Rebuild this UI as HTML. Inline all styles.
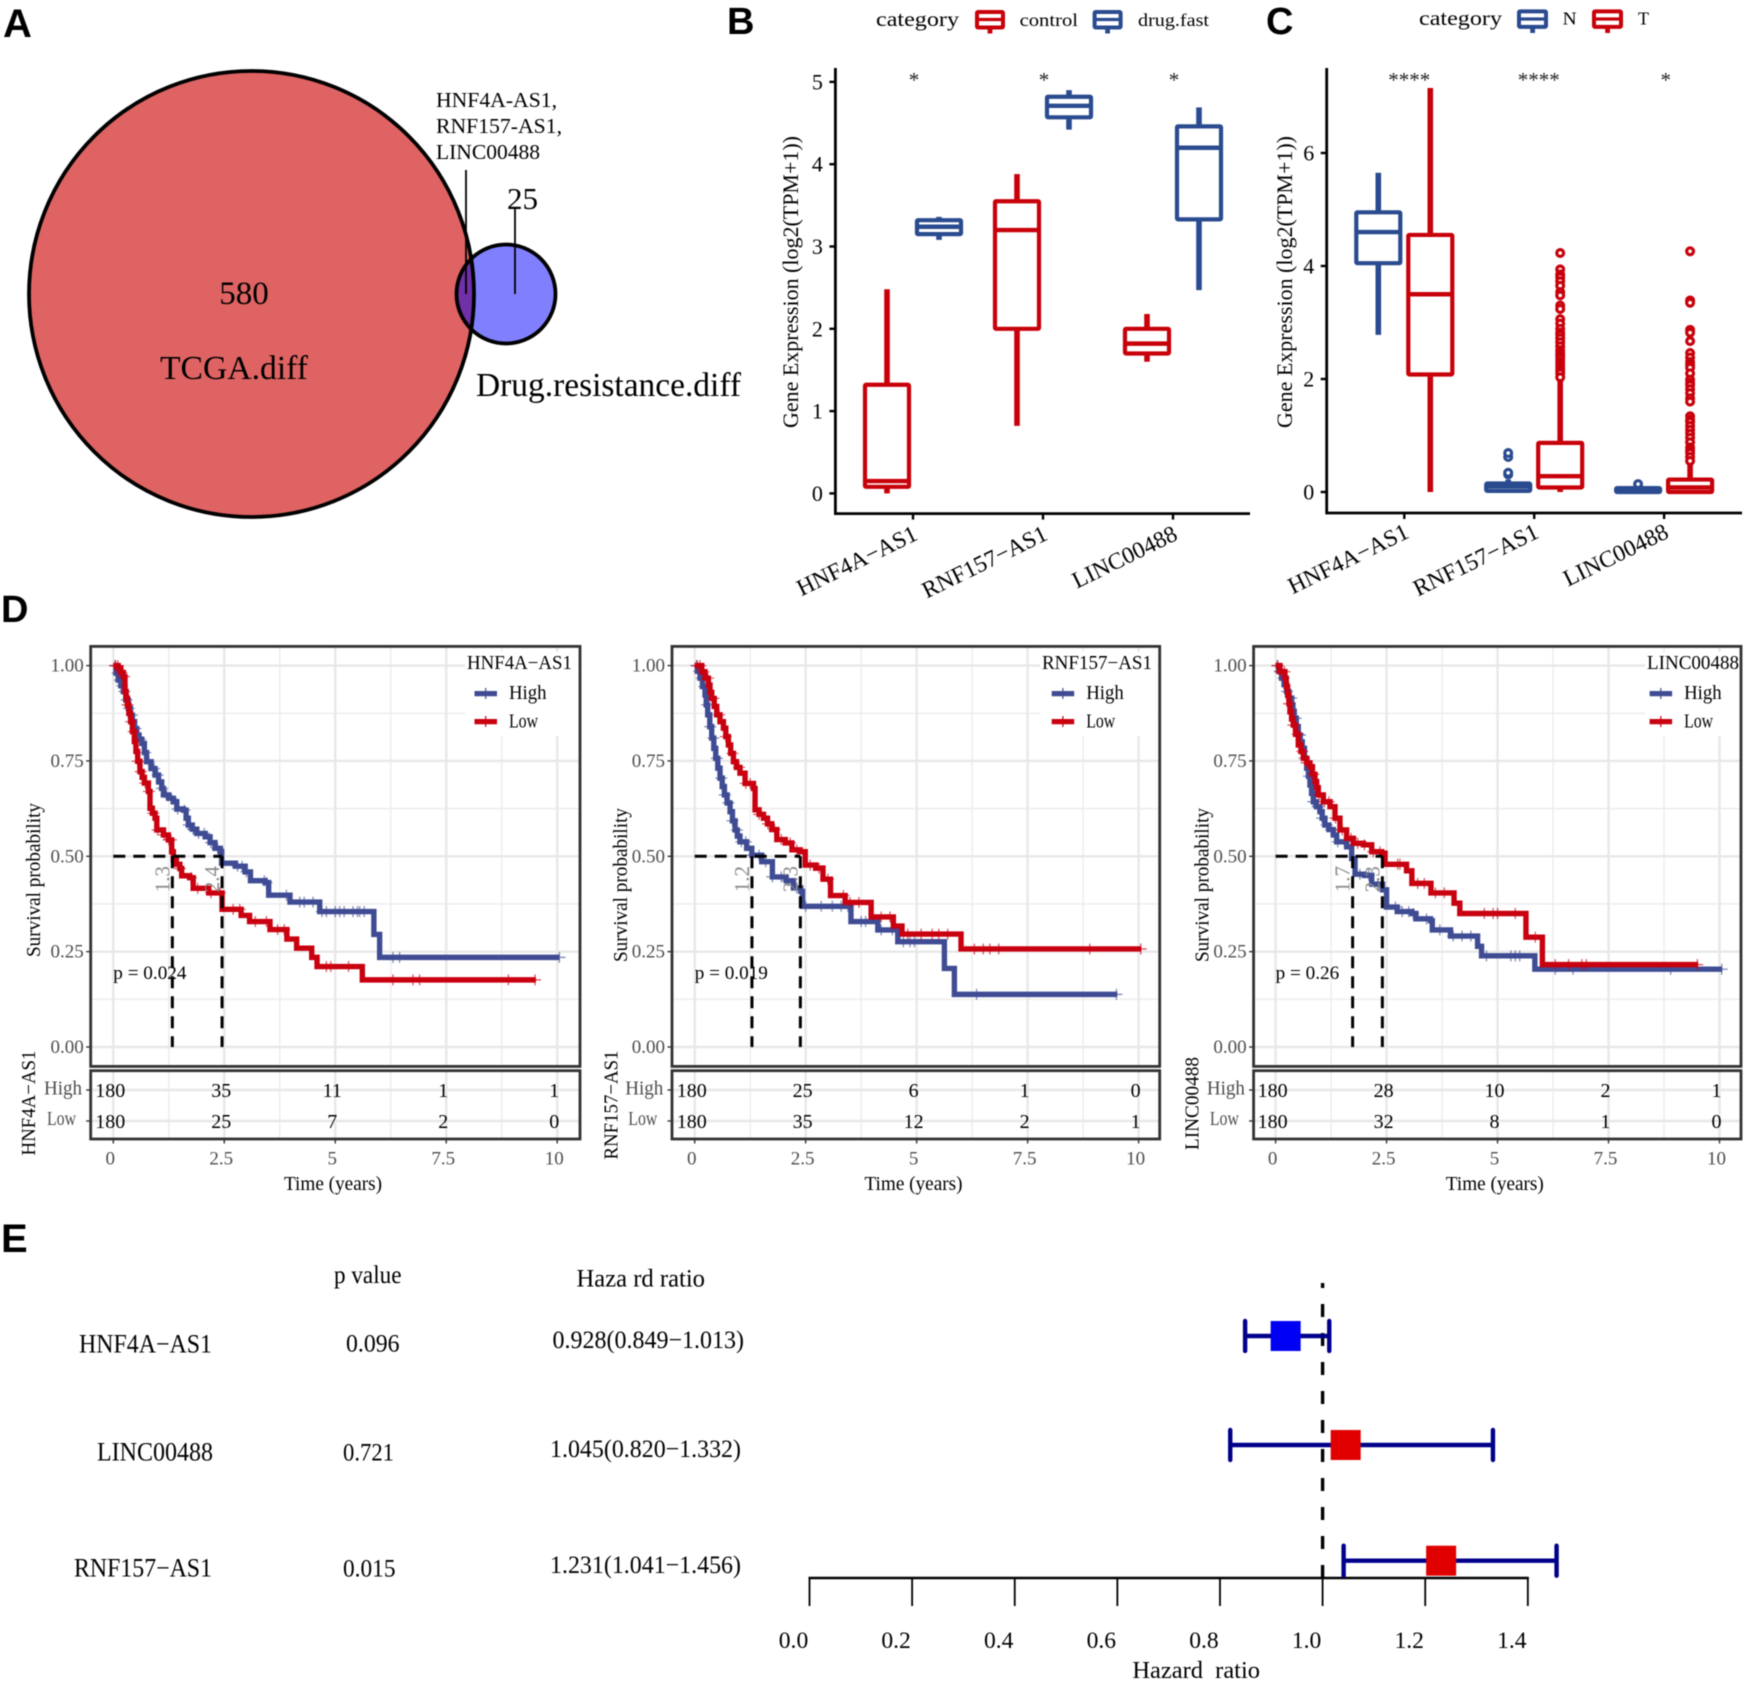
<!DOCTYPE html>
<html lang="en">
<head>
<meta charset="utf-8">
<title>Lncrna multi-panel figure</title>
<style>
html,body{margin:0;padding:0;background:#fff;}
svg{display:block;filter:blur(0.4px);}
text{font-family:"Liberation Serif","Times New Roman",serif;}
.panel-letter{font-family:"Liberation Sans",Arial,sans-serif;font-weight:bold;}
</style>
</head>
<body>
<svg id="figure" xmlns="http://www.w3.org/2000/svg" width="1745" height="1684" viewBox="0 0 1745 1684">
  <rect x="0" y="0" width="1745" height="1684" fill="#ffffff"/>

  <text class="panel-letter" x="3" y="37" font-size="40">A</text>
  <text class="panel-letter" x="727" y="34" font-size="38">B</text>
  <text class="panel-letter" x="1266" y="34" font-size="38">C</text>
  <text class="panel-letter" x="1" y="622" font-size="38">D</text>
  <text class="panel-letter" x="1" y="1252" font-size="40">E</text>

  <!-- Panel A: Venn diagram -->
  <g>
    <defs>
      <clipPath id="bigClip"><ellipse cx="251.5" cy="294" rx="222.5" ry="223"/></clipPath>
    </defs>
    <ellipse cx="251.5" cy="294" rx="222.5" ry="223" fill="#df6363"/>
    <ellipse cx="506" cy="294" rx="49.5" ry="49.5" fill="#8080ff"/>
    <ellipse cx="506" cy="294" rx="49.5" ry="49.5" fill="#7030a8" clip-path="url(#bigClip)"/>
    <ellipse cx="251.5" cy="294" rx="222.5" ry="223" fill="none" stroke="#000" stroke-width="3.8"/>
    <ellipse cx="506" cy="294" rx="49.5" ry="49.5" fill="none" stroke="#000" stroke-width="3.8"/>
    <line x1="466" y1="170" x2="466" y2="294" stroke="#000" stroke-width="1.8"/>
    <line x1="515" y1="209" x2="515" y2="294" stroke="#000" stroke-width="1.8"/>
    <text x="244" y="304" font-size="33" text-anchor="middle">580</text>
    <text x="160" y="379" font-size="33.5" textLength="148" lengthAdjust="spacingAndGlyphs">TCGA.diff</text>
    <text x="476" y="396" font-size="33.5" textLength="265" lengthAdjust="spacingAndGlyphs">Drug.resistance.diff</text>
    <text x="436" y="107" font-size="21.5" textLength="121" lengthAdjust="spacingAndGlyphs">HNF4A-AS1,</text>
    <text x="436" y="133" font-size="21.5" textLength="126" lengthAdjust="spacingAndGlyphs">RNF157-AS1,</text>
    <text x="436" y="159" font-size="21.5" textLength="104" lengthAdjust="spacingAndGlyphs">LINC00488</text>
    <text x="507" y="209" font-size="31" textLength="31" lengthAdjust="spacingAndGlyphs">25</text>
  </g>

  <!-- Panel B legend -->
  <g>
    <text x="876" y="26" font-size="21" textLength="83" lengthAdjust="spacingAndGlyphs">category</text>
    <g stroke="#c8000a" fill="none">
      <rect x="977" y="12" width="26" height="15.5" stroke-width="4" rx="1"/>
      <line x1="977" x2="1003" y1="19.5" y2="19.5" stroke-width="3.2"/>
      <line x1="990" x2="990" y1="28" y2="33.5" stroke-width="4.8"/>
    </g>
    <text x="1019.6" y="26" font-size="18" textLength="58.4" lengthAdjust="spacingAndGlyphs">control</text>
    <g stroke="#2a4b8f" fill="none">
      <rect x="1094.6" y="12" width="26" height="15.5" stroke-width="4" rx="1"/>
      <line x1="1094.6" x2="1120.6" y1="19.5" y2="19.5" stroke-width="3.2"/>
      <line x1="1107.6" x2="1107.6" y1="28" y2="33.5" stroke-width="4.8"/>
    </g>
    <text x="1138" y="26" font-size="18" textLength="71" lengthAdjust="spacingAndGlyphs">drug.fast</text>
  </g>

  <!-- Panel C legend -->
  <g>
    <text x="1419" y="25" font-size="21" textLength="83" lengthAdjust="spacingAndGlyphs">category</text>
    <g stroke="#2a4b8f" fill="none">
      <rect x="1519" y="11.4" width="27" height="15.5" stroke-width="4" rx="1"/>
      <line x1="1519" x2="1546" y1="19" y2="19" stroke-width="3.2"/>
      <line x1="1532.6" x2="1532.6" y1="27.5" y2="33" stroke-width="4.8"/>
    </g>
    <text x="1562.7" y="24.5" font-size="18" textLength="14" lengthAdjust="spacingAndGlyphs">N</text>
    <g stroke="#c8000a" fill="none">
      <rect x="1594" y="11.4" width="27" height="15.5" stroke-width="4" rx="1"/>
      <line x1="1594" x2="1621" y1="19" y2="19" stroke-width="3.2"/>
      <line x1="1607.6" x2="1607.6" y1="27.5" y2="33" stroke-width="4.8"/>
    </g>
    <text x="1638" y="24.5" font-size="18" textLength="11" lengthAdjust="spacingAndGlyphs">T</text>
  </g>

  <g id="chart-b"></g>
  <g id="chart-c"></g>
  <g id="chart-d1"></g>
  <g id="chart-d2"></g>
  <g id="chart-d3"></g>
  <g id="chart-e"></g>
</svg>

<script>
/* ---------- Panel B data ---------- */
const geneCategories = ['HNF4A\u2212AS1', 'RNF157\u2212AS1', 'LINC00488'];
const bYTicks = [0, 1, 2, 3, 4, 5];
const bControlLow = [0.0, 0.82, 1.6];
const bControlQ1 = [0.08, 2.0, 1.7];
const bControlMedian = [0.15, 3.2, 1.82];
const bControlQ3 = [1.32, 3.55, 2.0];
const bControlHigh = [2.48, 3.88, 2.18];
const bDrugLow = [3.08, 4.42, 2.47];
const bDrugQ1 = [3.15, 4.57, 3.33];
const bDrugMedian = [3.24, 4.71, 4.2];
const bDrugQ3 = [3.32, 4.82, 4.46];
const bDrugHigh = [3.36, 4.9, 4.69];
const bStars = ['*', '*', '*'];

/* ---------- Panel C data ---------- */
const cYTicks = [0, 2, 4, 6];
const cNormalLow = [2.78, 0, 0];
const cNormalQ1 = [4.05, 0.02, 0];
const cNormalMedian = [4.6, 0.1, 0.02];
const cNormalQ3 = [4.95, 0.15, 0.07];
const cNormalHigh = [5.65, 0.22, 0.09];
const cTumorLow = [0, 0, 0];
const cTumorQ1 = [2.08, 0.08, 0];
const cTumorMedian = [3.5, 0.28, 0.08];
const cTumorQ3 = [4.55, 0.87, 0.22];
const cTumorHigh = [7.15, 2.0, 0.5];
const cNormalOutliersHnf = [];
const cNormalOutliersRnf = [0.31, 0.34, 0.62, 0.69];
const cNormalOutliersLinc = [0.14];
const cTumorOutliersHnf = [];
const cTumorOutliersRnf = [4.23, 3.94, 3.85, 3.8, 3.73, 3.65, 3.54, 3.48, 3.3, 3.24, 3.06, 2.98, 2.89, 2.82, 2.78, 2.72, 2.65, 2.58, 2.51, 2.46, 2.41, 2.36, 2.3, 2.25, 2.2, 2.15, 2.1, 2.03];
const cTumorOutliersLinc = [4.26, 3.39, 3.35, 2.87, 2.82, 2.67, 2.46, 2.38, 2.3, 2.25, 2.2, 2.1, 1.99, 1.93, 1.89, 1.82, 1.75, 1.66, 1.6, 1.34, 1.28, 1.24, 1.17, 1.1, 1.03, 0.96, 0.88, 0.79, 0.74, 0.69, 0.62, 0.55];
const cStars = ['****', '****', '*'];

/* ---------- Panel D data ---------- */
const kmTimeTicks = [0, 2.5, 5, 7.5, 10];
const kmTimeLabels = ['0', '2.5', '5', '7.5', '10'];
const kmTimeMinor = [1.25, 3.75, 6.25, 8.75];
const kmSurvTicks = [0, 0.25, 0.5, 0.75, 1];
const kmSurvLabels = ['0.00', '0.25', '0.50', '0.75', '1.00'];
const kmSurvMinor = [0.125, 0.375, 0.625, 0.875];

const hnf4aHighTime = [0,.06,.11,.17,.226,.28,.338,.385,.43,.48,.526,.58,.64,.7,.75,.85,.94,1.02,1.09,1.13,1.25,1.353,1.43,1.58,1.64,1.69,1.78,1.88,2.07,2.18,2.29,2.41,2.44,2.75,2.97,3.09,3.42,3.5,3.98,4.65,5.87,6.0,10.05];
const hnf4aHighSurv = [1,.98,.962,.947,.932,.91,.888,.87,.853,.835,.818,.807,.796,.772,.748,.73,.713,.695,.678,.661,.652,.643,.624,.621,.6,.582,.571,.56,.551,.536,.521,.512,.482,.474,.459,.436,.431,.398,.38,.355,.295,.235,.235];
const hnf4aHighCensor = [.05,.1,.15,.2,.25,.3,.35,.42,.5,.6,.72,.8,.92,1.0,1.1,1.2,1.3,1.45,1.6,1.7,1.8,1.92,2.05,2.2,2.35,2.8,2.9,3.0,3.4,3.45,3.9,4.2,4.3,4.5,4.7,4.8,5.0,5.1,5.2,5.4,5.5,5.55,5.65,6.3,6.45,10.05];
const hnf4aLowTime = [0,.11,.17,.226,.263,.29,.316,.35,.39,.43,.474,.51,.549,.6,.65,.7,.79,.827,.88,.94,.98,1.13,1.24,1.316,1.353,1.42,1.5,1.54,1.72,1.8,2.15,2.45,2.88,3.07,3.53,3.91,4.13,4.47,4.59,5.61,9.52];
const hnf4aLowSurv = [1,.993,.982,.971,.932,.915,.897,.875,.853,.827,.801,.775,.749,.722,.707,.692,.67,.626,.613,.6,.569,.556,.543,.512,.49,.479,.468,.449,.444,.416,.404,.361,.345,.329,.308,.283,.259,.235,.211,.176,.176];
const hnf4aLowCensor = [.04,.1,.18,.24,.32,.4,.46,.55,.62,.72,.8,.9,1.0,1.15,1.25,1.3,1.5,1.75,1.9,2.2,2.4,2.7,2.85,3.2,3.45,3.7,3.85,4.8,4.9,5.3,6.3,6.75,6.9,8.9,9.5];
const hnf4aMedians = [1.33, 2.45];
const hnf4aMedianLabels = ['1.3', '2.4'];
const hnf4aAtRiskHigh = [180, 35, 11, 1, 1];
const hnf4aAtRiskLow = [180, 25, 7, 2, 0];

const rnf157HighTime = [0,.06,.12,.175,.233,.26,.293,.34,.383,.43,.474,.52,.571,.62,.669,.73,.797,.85,.91,.96,1.02,1.17,1.286,1.51,1.75,2.06,2.225,2.39,2.43,3.52,4.125,4.575,5.625,5.85,9.52];
const rnf157HighSurv = [1,.985,.967,.945,.923,.897,.871,.84,.81,.783,.757,.731,.705,.683,.661,.64,.617,.593,.569,.553,.538,.521,.503,.486,.446,.436,.417,.408,.369,.329,.307,.276,.206,.138,.138];
const rnf157HighCensor = [.04,.1,.16,.22,.28,.35,.42,.5,.6,.68,.76,.85,.95,1.05,1.15,1.3,1.45,1.6,1.75,1.95,2.1,2.3,2.5,2.85,3.1,3.3,3.45,3.75,3.85,4.2,4.45,4.7,4.85,4.95,6.35,9.5];
const rnf157LowTime = [0,.158,.23,.308,.345,.383,.44,.496,.57,.647,.7,.759,.81,.872,.94,1.02,1.135,1.323,1.36,1.45,1.55,1.64,1.737,1.85,2.04,2.19,2.376,2.49,2.725,2.89,3.06,3.39,3.975,4.475,4.67,6.0,10.06];
const rnf157LowSurv = [1,.984,.967,.949,.93,.914,.893,.871,.853,.836,.814,.792,.77,.748,.733,.718,.691,.678,.622,.61,.6,.585,.57,.544,.535,.517,.512,.477,.469,.44,.397,.379,.341,.317,.296,.257,.257];
const rnf157LowCensor = [.06,.12,.2,.3,.42,.55,.7,.85,1.0,1.15,1.25,1.45,1.65,1.8,1.95,2.15,2.3,2.6,2.8,3.0,3.35,3.5,3.7,4.2,4.4,4.8,5.1,5.35,5.5,5.7,6.3,6.5,6.65,6.85,8.9,10.05];
const rnf157Medians = [1.29, 2.38];
const rnf157MedianLabels = ['1.2', '2.3'];
const rnf157AtRiskHigh = [180, 25, 6, 1, 0];
const rnf157AtRiskLow = [180, 35, 12, 2, 1];

const lincHighTime = [0,.07,.135,.19,.248,.3,.361,.39,.42,.465,.511,.555,.6,.65,.7,.74,.774,.81,.85,.92,1.0,1.05,1.11,1.2,1.3,1.376,1.6,1.714,1.79,2.0,2.165,2.41,2.5,2.74,3.07,3.16,3.49,3.53,3.94,4.55,4.64,5.84,10.06];
const lincHighSurv = [1,.985,.967,.95,.932,.915,.897,.88,.862,.84,.818,.8,.783,.757,.731,.71,.687,.665,.643,.63,.617,.6,.582,.57,.556,.538,.525,.494,.453,.45,.427,.412,.367,.355,.35,.336,.331,.307,.291,.264,.239,.204,.204];
const lincHighCensor = [.05,.1,.18,.26,.35,.45,.55,.65,.75,.85,.95,1.05,1.15,1.25,1.4,1.55,1.9,2.1,2.3,2.7,2.85,3.0,3.1,3.4,3.7,4.0,4.2,4.4,4.75,5.3,5.4,5.5,6.3,6.7,8.9,10.05];
const lincLowTime = [0,.098,.21,.24,.27,.3,.323,.36,.398,.45,.511,.57,.624,.7,.774,.83,.887,.925,.962,1.075,1.226,1.338,1.45,1.6,1.752,1.977,2.165,2.39,2.466,2.95,3.07,3.5,4.02,4.15,5.64,6.01,9.52];
const lincLowSurv = [1,.984,.967,.945,.923,.9,.879,.86,.844,.82,.792,.775,.757,.745,.735,.715,.696,.68,.661,.643,.63,.6,.569,.547,.534,.53,.512,.508,.479,.462,.429,.404,.377,.35,.288,.216,.216];
const lincLowCensor = [.04,.1,.2,.3,.4,.5,.6,.7,.85,.98,1.1,1.2,1.35,1.5,1.7,1.85,2.0,2.2,2.35,2.75,2.8,3.2,3.35,3.6,3.8,4.7,4.9,5.0,5.4,5.85,6.3,6.6,6.9,7.0,9.5];
const lincMedians = [1.735, 2.405];
const lincMedianLabels = ['1.7', '2.3'];
const lincAtRiskHigh = [180, 28, 10, 2, 1];
const lincAtRiskLow = [180, 32, 8, 1, 0];

/* ---------- Panel E data ---------- */
const forestGenes = ['HNF4A\u2212AS1', 'LINC00488', 'RNF157\u2212AS1'];
const forestPValues = ['0.096', '0.721', '0.015'];
const forestHr = [0.928, 1.045, 1.231];
const forestLower = [0.849, 0.820, 1.041];
const forestUpper = [1.013, 1.332, 1.456];
const forestTicks = [0, 0.2, 0.4, 0.6, 0.8, 1.0, 1.2, 1.4];
const forestTickLabels = ['0.0', '0.2', '0.4', '0.6', '0.8', '1.0', '1.2', '1.4'];

/* ---------- Helpers ---------- */
const NS = 'http://www.w3.org/2000/svg';
const RED = '#c8000a';
const NAVY = '#2a4b8f';
const KM_RED = '#c8000f';
const KM_BLUE = '#3f4c94';

function mk(tag, attrs, parent) {
  const el = document.createElementNS(NS, tag);
  for (const k in attrs) el.setAttribute(k, attrs[k]);
  parent.appendChild(el);
  return el;
}
function txt(parent, str, x, y, size, opts) {
  const o = opts || {};
  const el = mk('text', {x: x, y: y, 'font-size': size}, parent);
  if (o.anchor) el.setAttribute('text-anchor', o.anchor);
  if (o.fill) el.setAttribute('fill', o.fill);
  if (o.rotate !== undefined) el.setAttribute('transform', 'rotate(' + o.rotate + ' ' + x + ' ' + y + ')');
  if (o.len) {
    el.setAttribute('textLength', o.len);
    el.setAttribute('lengthAdjust', 'spacingAndGlyphs');
  }
  el.textContent = str;
  return el;
}

/* ---------- Box plots (B, C) ---------- */
function drawBox(g, cx, yOf, low, q1, med, q3, high, color) {
  const half = 22;
  const whiskerUp = mk('line', {x1: cx, x2: cx, y1: yOf(q3), y2: yOf(high), stroke: color, 'stroke-width': 5.6}, g);
  
  
  const whiskerDown = mk('line', {x1: cx, x2: cx, y1: yOf(q1), y2: yOf(low), stroke: color, 'stroke-width': 5.6}, g);
  
  
  const box = mk('rect', {x: cx - half, width: half * 2, y: yOf(q3), height: yOf(q1) - yOf(q3), fill: '#fff', stroke: color, 'stroke-width': 4.2, rx: 1}, g);
  
  
  const median = mk('line', {x1: cx - half, x2: cx + half, y1: yOf(med), y2: yOf(med), stroke: color, 'stroke-width': 4.4}, g);
  
  
}
function drawOutliers(g, cx, yOf, values, color) {
  values.forEach(function (v) {
    const c = mk('circle', {cx: cx, cy: yOf(v), r: 3.4, fill: '#fff', stroke: color, 'stroke-width': 3.2}, g);
    
    
  });
}
function drawBoxAxes(g, c) {
  const ya = mk('line', {x1: c.axisX, x2: c.axisX, y1: 68, y2: c.axisY + 1.4, stroke: '#000', 'stroke-width': 2.8}, g);
  
  
  const xa = mk('line', {x1: c.axisX, x2: c.axisEnd, y1: c.axisY, y2: c.axisY, stroke: '#000', 'stroke-width': 2.8}, g);
  
  
  c.yTicks.forEach(function (v) {
    const t = mk('line', {x1: c.axisX - 6, x2: c.axisX, y1: c.yOf(v), y2: c.yOf(v), stroke: '#000', 'stroke-width': 2.4}, g);
    
    
    const l = txt(g, String(v), c.axisX - 12.5, c.yOf(v) + 7.5, 22, {anchor: 'end'});
    
    
  });
  geneCategories.forEach(function (name, i) {
    const x = c.xOf(i);
    const t = mk('line', {x1: x, x2: x, y1: c.axisY, y2: c.axisY + 6, stroke: '#000', 'stroke-width': 2.4}, g);
    
    
    const l = txt(g, name, x + 6, c.labelY, 23.5, {anchor: 'end', rotate: -26});
    
    
    const s = txt(g, c.stars[i], x + c.starDx[i], 87, 21, {anchor: 'middle', fill: '#222'});
    
    
  });
  const title = txt(g, 'Gene Expression (log2(TPM+1))', c.titleX, 282, 22, {anchor: 'middle', rotate: -90, len: 292});
  
  
}

(function () {
  const g = document.getElementById('chart-b');
  const yOf = function (v) { return 493.4 - v * 82.3; };
  const xOf = function (i) { return 913 + i * 130; };
  drawBoxAxes(g, {axisX: 835.4, axisY: 513.6, axisEnd: 1250, yOf: yOf, xOf: xOf, yTicks: bYTicks, labelY: 539, stars: bStars, starDx: [1, 1, 1], titleX: 798});
  geneCategories.forEach(function (_, i) {
    drawBox(g, xOf(i) - 26, yOf, bControlLow[i], bControlQ1[i], bControlMedian[i], bControlQ3[i], bControlHigh[i], RED);
    drawBox(g, xOf(i) + 26, yOf, bDrugLow[i], bDrugQ1[i], bDrugMedian[i], bDrugQ3[i], bDrugHigh[i], NAVY);
  });
})();

(function () {
  const g = document.getElementById('chart-c');
  const yOf = function (v) { return 492 - v * 56.5; };
  const xOf = function (i) { return 1404.3 + i * 129.9; };
  drawBoxAxes(g, {axisX: 1326.7, axisY: 513, axisEnd: 1742, yOf: yOf, xOf: xOf, yTicks: cYTicks, labelY: 537, stars: cStars, starDx: [5, 4.5, 1.7], titleX: 1292});
  const normalOut = [cNormalOutliersHnf, cNormalOutliersRnf, cNormalOutliersLinc];
  const tumorOut = [cTumorOutliersHnf, cTumorOutliersRnf, cTumorOutliersLinc];
  geneCategories.forEach(function (_, i) {
    drawOutliers(g, xOf(i) - 26, yOf, normalOut[i], NAVY);
    drawOutliers(g, xOf(i) + 26, yOf, tumorOut[i], RED);
    drawBox(g, xOf(i) - 26, yOf, cNormalLow[i], cNormalQ1[i], cNormalMedian[i], cNormalQ3[i], cNormalHigh[i], NAVY);
    drawBox(g, xOf(i) + 26, yOf, cTumorLow[i], cTumorQ1[i], cTumorMedian[i], cTumorQ3[i], cTumorHigh[i], RED);
  });
})();

/* ---------- Kaplan-Meier plots (D) ---------- */
function stepValue(t, times, surv) {
  let s = surv[0];
  for (let i = 0; i < times.length; i++) { if (times[i] <= t) s = surv[i]; }
  return s;
}
function drawCurve(g, times, surv, censor, color, xOf, yOf) {
  censor.forEach(function (t) {
    const x = xOf(t), y = yOf(stepValue(t, times, surv));
    const m = mk('path', {d: 'M' + (x - 6) + ' ' + y + 'H' + (x + 6) + 'M' + x + ' ' + (y - 5.5) + 'V' + (y + 5.5), stroke: color, 'stroke-width': 1.2, 'stroke-opacity': 0.7, fill: 'none'}, g);
    
    
  });
  let d = 'M' + xOf(times[0]) + ' ' + yOf(surv[0]);
  for (let i = 1; i < times.length; i++) {
    d += 'H' + xOf(times[i]) + 'V' + yOf(surv[i]);
  }
  const line = mk('path', {d: d, fill: 'none', stroke: color, 'stroke-width': 5.4}, g);
  
  
}
function drawKm(c) {
  const g = document.getElementById(c.id);
  const top = 646.4, bottom = 1066.4, tTop = 1070.7, tBottom = 1139;
  const xOf = function (t) { return c.x0 + t * 44.39; };
  const yOf = function (s) { return 1047 - s * 381.4; };
  const rowHigh = 1090, rowLow = 1121;

  /* grid */
  kmTimeMinor.forEach(function (t) {
    const a = mk('line', {x1: xOf(t), x2: xOf(t), y1: top, y2: bottom, stroke: '#ececec', 'stroke-width': 1.4}, g);
    
    
    const b = mk('line', {x1: xOf(t), x2: xOf(t), y1: tTop, y2: tBottom, stroke: '#ececec', 'stroke-width': 1.4}, g);
    
    
  });
  kmSurvMinor.forEach(function (s) {
    const a = mk('line', {x1: c.left, x2: c.right, y1: yOf(s), y2: yOf(s), stroke: '#ececec', 'stroke-width': 1.4}, g);
    
    
  });
  kmTimeTicks.forEach(function (t) {
    const a = mk('line', {x1: xOf(t), x2: xOf(t), y1: top, y2: bottom, stroke: '#e8e8e8', 'stroke-width': 2.4}, g);
    
    
    const b = mk('line', {x1: xOf(t), x2: xOf(t), y1: tTop, y2: tBottom, stroke: '#e8e8e8', 'stroke-width': 2.4}, g);
    
    
  });
  kmSurvTicks.forEach(function (s) {
    const a = mk('line', {x1: c.left, x2: c.right, y1: yOf(s), y2: yOf(s), stroke: '#e8e8e8', 'stroke-width': 2.4}, g);
    
    
  });
  [rowHigh, rowLow].forEach(function (y) {
    const a = mk('line', {x1: c.left, x2: c.right, y1: y, y2: y, stroke: '#e8e8e8', 'stroke-width': 2.4}, g);
    
    
  });

  /* curves */
  drawCurve(g, c.highT, c.highS, c.highC, KM_BLUE, xOf, yOf);
  drawCurve(g, c.lowT, c.lowS, c.lowC, KM_RED, xOf, yOf);

  /* median lines */
  const hMed = mk('line', {x1: xOf(0), x2: xOf(c.medians[1]), y1: yOf(0.5), y2: yOf(0.5), stroke: '#000', 'stroke-width': 3, 'stroke-dasharray': '12 8'}, g);
  
  
  c.medians.forEach(function (m, i) {
    const v = mk('line', {x1: xOf(m), x2: xOf(m), y1: yOf(0.5), y2: yOf(0), stroke: '#000', 'stroke-width': 3, 'stroke-dasharray': '12 8'}, g);
    
    
    const l = txt(g, c.medianLabels[i], xOf(m) - 3, yOf(0.5) + 36, 21, {rotate: -90, fill: '#8a8a8a'});
    
    
  });

  /* frames */
  const frame = mk('rect', {x: c.left, y: top, width: c.right - c.left, height: bottom - top, fill: 'none', stroke: '#333', 'stroke-width': 2.8}, g);
  
  
  const tframe = mk('rect', {x: c.left, y: tTop, width: c.right - c.left, height: tBottom - tTop, fill: 'none', stroke: '#333', 'stroke-width': 2.8}, g);
  
  

  /* y ticks */
  kmSurvTicks.forEach(function (s, i) {
    const t = mk('line', {x1: c.left - 4.5, x2: c.left, y1: yOf(s), y2: yOf(s), stroke: '#333', 'stroke-width': 1.4}, g);
    
    
    const l = txt(g, kmSurvLabels[i], c.left - 7, yOf(s) + 6, 19, {anchor: 'end', fill: '#4d4d4d'});
    
    
  });

  /* x ticks and risk numbers */
  kmTimeTicks.forEach(function (t, i) {
    const tk = mk('line', {x1: xOf(t), x2: xOf(t), y1: tBottom, y2: tBottom + 4.5, stroke: '#333', 'stroke-width': 1.4}, g);
    
    
    const l = txt(g, kmTimeLabels[i], xOf(t) - 3, 1164.5, 19, {anchor: 'middle', fill: '#4d4d4d'});
    
    
    const a = txt(g, String(c.riskHigh[i]), xOf(t) - 3, 1097, 20, {anchor: 'middle'});
    
    
    const b = txt(g, String(c.riskLow[i]), xOf(t) - 3, 1128, 20, {anchor: 'middle'});
    
    
  });

  /* row labels */
  const tickH = mk('line', {x1: c.left - 4.5, x2: c.left, y1: rowHigh, y2: rowHigh, stroke: '#333', 'stroke-width': 1.4}, g);
  
  
  const tickL = mk('line', {x1: c.left - 4.5, x2: c.left, y1: rowLow, y2: rowLow, stroke: '#333', 'stroke-width': 1.4}, g);
  
  
  const rh = txt(g, 'High', c.left - 46.7, 1094.7, 20, {fill: '#4d4d4d', len: 38});
  
  
  const rl = txt(g, 'Low', c.left - 43.7, 1125, 20, {fill: '#4d4d4d', len: 29});
  
  

  /* titles */
  const yt = txt(g, 'Survival probability', c.survX, c.survMid, 19.5, {anchor: 'middle', rotate: -90, len: 154});
  
  
  const gl = txt(g, c.gene, c.geneX, c.geneMid, 20, {anchor: 'middle', rotate: -90, len: c.geneLen});
  
  
  const xt = txt(g, 'Time (years)', c.timeX, 1190, 20, {len: 98});
  
  
  const p = txt(g, c.pText, xOf(0), 979, 19.2);
  
  

  /* legend */
  const lgBg = mk('rect', {x: c.titleX - 2, y: 652, width: c.right - c.titleX, height: 84, fill: '#fff'}, g);
  
  
  const lt = txt(g, c.gene, c.titleX, 669, 19.5, {len: c.titleLen});
  
  
  const ll1 = mk('path', {d: 'M' + c.legX + ' 693.6h22.5', stroke: KM_BLUE, 'stroke-width': 5.2, fill: 'none'}, g);
  
  
  const ll2 = mk('path', {d: 'M' + c.legX + ' 721.6h22.5', stroke: KM_RED, 'stroke-width': 5.2, fill: 'none'}, g);
  
  
  const lc1 = mk('path', {d: 'M' + (c.legX + 11.2) + ' 688v11', stroke: KM_BLUE, 'stroke-width': 1.2, fill: 'none'}, g);
  
  
  const lc2 = mk('path', {d: 'M' + (c.legX + 11.2) + ' 716v11', stroke: KM_RED, 'stroke-width': 1.2, fill: 'none'}, g);
  
  
  const lh = txt(g, 'High', c.legX + 34.5, 699, 20, {len: 37.5});
  
  
  const lw = txt(g, 'Low', c.legX + 34.5, 727.5, 20, {len: 29});
  
  
}

drawKm({id: 'chart-d1', gene: 'HNF4A\u2212AS1', pText: 'p = 0.024', x0: 113.3, left: 90.7, right: 580,
  highT: hnf4aHighTime, highS: hnf4aHighSurv, highC: hnf4aHighCensor,
  lowT: hnf4aLowTime, lowS: hnf4aLowSurv, lowC: hnf4aLowCensor,
  medians: hnf4aMedians, medianLabels: hnf4aMedianLabels, riskHigh: hnf4aAtRiskHigh, riskLow: hnf4aAtRiskLow,
  survX: 40, survMid: 880, geneX: 35, geneMid: 1103, geneLen: 105, timeX: 284,
  titleX: 467, titleLen: 105, legX: 474.5});
drawKm({id: 'chart-d2', gene: 'RNF157\u2212AS1', pText: 'p = 0.019', x0: 694.7, left: 672, right: 1159.7,
  highT: rnf157HighTime, highS: rnf157HighSurv, highC: rnf157HighCensor,
  lowT: rnf157LowTime, lowS: rnf157LowSurv, lowC: rnf157LowCensor,
  medians: rnf157Medians, medianLabels: rnf157MedianLabels, riskHigh: rnf157AtRiskHigh, riskLow: rnf157AtRiskLow,
  survX: 627, survMid: 885, geneX: 617.7, geneMid: 1105, geneLen: 109, timeX: 864.5,
  titleX: 1042, titleLen: 110, legX: 1051.7});
drawKm({id: 'chart-d3', gene: 'LINC00488', pText: 'p = 0.26', x0: 1275.6, left: 1253.6, right: 1741,
  highT: lincHighTime, highS: lincHighSurv, highC: lincHighCensor,
  lowT: lincLowTime, lowS: lincLowSurv, lowC: lincLowCensor,
  medians: lincMedians, medianLabels: lincMedianLabels, riskHigh: lincAtRiskHigh, riskLow: lincAtRiskLow,
  survX: 1208.5, survMid: 885, geneX: 1198.6, geneMid: 1103.5, geneLen: 93, timeX: 1445.8,
  titleX: 1647, titleLen: 92, legX: 1649.6});

/* ---------- Forest plot (E) ---------- */
(function () {
  const g = document.getElementById('chart-e');
  const xOf = function (v) { return 809.5 + v * 513.1; };
  const rowCenters = [1336, 1445, 1560.7];
  const geneX = [[79, 133, 1352.7], [97, 116, 1460.7], [74, 138, 1576.7]];
  const pX = [[346, 53.5, 1351.7], [343, 51, 1460.7], [343, 52.5, 1576.7]];
  const hrX = [[552.5, 191.5, 1348], [550, 191, 1457], [550, 191, 1573]];

  const ph = txt(g, 'p value', 334, 1283, 25.5, {len: 67.5});
  
  
  const hh = txt(g, 'Haza rd ratio', 576.5, 1286.7, 25.5, {len: 128.5});
  
  

  const axis = mk('line', {x1: xOf(forestTicks[0]) - 1, x2: xOf(forestTicks[forestTicks.length - 1]) + 1, y1: 1578, y2: 1578, stroke: '#000', 'stroke-width': 2.4}, g);
  
  
  forestTicks.forEach(function (v, i) {
    const t = mk('line', {x1: xOf(v), x2: xOf(v), y1: 1578, y2: 1606, stroke: '#000', 'stroke-width': 1.8}, g);
    
    
    const l = txt(g, forestTickLabels[i], xOf(v) - 16, 1648, 23.6, {anchor: 'middle'});
    
    
  });
  const at = txt(g, 'Hazard  ratio', 1132.4, 1678, 24, {len: 127.6});
  
  at.setAttribute('xml:space', 'preserve');
  at.setAttribute('style', 'white-space:pre');
  

  const ref = mk('line', {x1: xOf(1), x2: xOf(1), y1: 1283, y2: 1578, stroke: '#000', 'stroke-width': 3.4, 'stroke-dasharray': '13 16', 'stroke-dashoffset': 8}, g);
  
  

  forestGenes.forEach(function (name, i) {
    const y = rowCenters[i];
    const n = txt(g, name, geneX[i][0], geneX[i][2], 26, {len: geneX[i][1]});
    
    
    const p = txt(g, forestPValues[i], pX[i][0], pX[i][2], 25, {len: pX[i][1]});
    
    
    const hrStr = forestHr[i].toFixed(3) + '(' + forestLower[i].toFixed(3) + '\u2212' + forestUpper[i].toFixed(3) + ')';
    const h = txt(g, hrStr, hrX[i][0], hrX[i][2], 25, {len: hrX[i][1]});
    
    

    const ci = mk('path', {d: 'M' + xOf(forestLower[i]) + ' ' + (y - 15) + 'V' + (y + 15) + 'M' + xOf(forestUpper[i]) + ' ' + (y - 15) + 'V' + (y + 15) + 'M' + xOf(forestLower[i]) + ' ' + y + 'H' + xOf(forestUpper[i]), stroke: '#00008b', 'stroke-width': 4.4, fill: 'none', 'stroke-linecap': 'round'}, g);
    
    
    const box = mk('rect', {x: xOf(forestHr[i]) - 15, y: y - 15, width: 30, height: 30, fill: forestHr[i] < 1 ? '#0000f5' : '#e00000'}, g);
    
    
  });
})();
</script>
</body>
</html>
